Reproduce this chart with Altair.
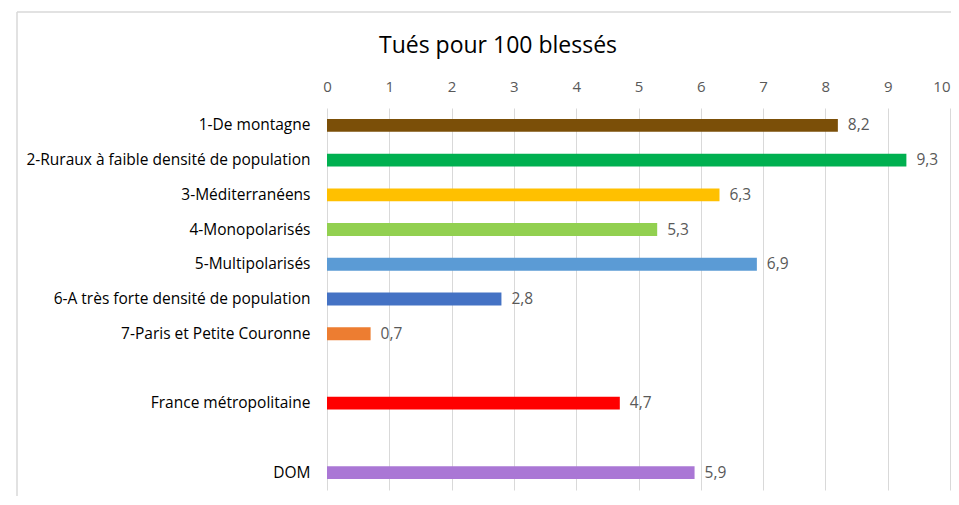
import altair as alt
import pandas as pd

title_text = "Tués pour 100 blessés"
categories = [
    "1-De montagne",
    "2-Ruraux à faible densité de population",
    "3-Méditerranéens",
    "4-Monopolarisés",
    "5-Multipolarisés",
    "6-A très forte densité de population",
    "7-Paris et Petite Couronne",
    "France métropolitaine",
    "DOM",
]
values = [8.2, 9.3, 6.3, 5.3, 6.9, 2.8, 0.7, 4.7, 5.9]
colors = ["#7B4F08", "#00B050", "#FFC000", "#92D050", "#5B9BD5",
          "#4472C4", "#ED7D31", "#FF0000", "#AA77D5"]
y_order = categories[:7] + [" "] + ["France métropolitaine"] + ["  "] + ["DOM"]
x_ticks = list(range(0, 11))

FONT = "Open Sans"
GRAY = "#595959"
df = pd.DataFrame({"cat": categories, "v": values})

base = alt.Chart(df).encode(
    y=alt.Y("cat:N", sort=y_order, scale=alt.Scale(domain=y_order, paddingInner=0.63, paddingOuter=0.315),
            axis=alt.Axis(title=None, ticks=False, domain=False, labelPadding=17, labelLimit=500,
                          labelFont=FONT, labelFontSize=15.5, labelColor="#000000", grid=False)),
)

bars = base.mark_bar().encode(
    x=alt.X("v:Q", scale=alt.Scale(domain=[0, 10], nice=False),
            axis=alt.Axis(orient="top", title=None, values=x_ticks, format="d", ticks=False, domain=False,
                          grid=True, gridColor="#D9D9D9", gridWidth=1, labelPadding=14,
                          labelFlush=False,
                          labelAlign=alt.expr("datum.value == 10 ? 'right' : 'center'"),
                          labelFont=FONT, labelFontSize=15, labelColor=GRAY)),
    color=alt.Color("cat:N", scale=alt.Scale(domain=categories, range=colors), legend=None),
)

labels = base.transform_calculate(
    lab="replace(format(datum.v, '.1f'), '.', ',')"
).mark_text(align="left", baseline="middle", dx=10, font=FONT, fontSize=15.5, color=GRAY).encode(
    x=alt.X("v:Q"),
    text="lab:N",
)

frame_df = pd.DataFrame({"t": [title_text]})
title = alt.Chart(frame_df).mark_text(font=FONT, fontSize=23, color="#000000",
                                      align="center", baseline="middle").encode(
    x=alt.value(171), y=alt.value(-62), text="t:N")
border_top = alt.Chart(frame_df).mark_rule(color="#D9D9D9", strokeWidth=1.5).encode(
    x=alt.value(-310), x2=alt.value(640), y=alt.value(-96))
border_left = alt.Chart(frame_df).mark_rule(color="#D9D9D9", strokeWidth=1.5).encode(
    x=alt.value(-310), y=alt.value(-96), y2=alt.value(390))

chart = alt.layer(border_top, border_left, title, bars, labels).properties(
    width=623,
    height=382,
    autosize=alt.AutoSizeParams(type="none"),
    padding={"left": 319, "top": 100, "right": 1, "bottom": 6},
).configure_view(stroke=None)

chart.save("out.html", embed_options={"renderer": "svg", "actions": False})
